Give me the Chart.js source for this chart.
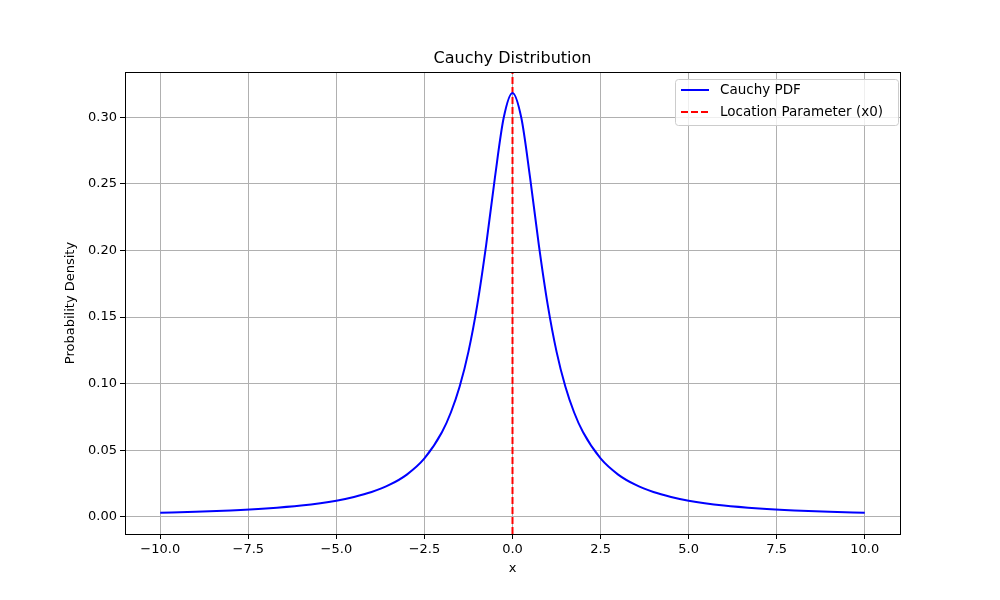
<!DOCTYPE html>
<html><head><script src="https://cdn.jsdelivr.net/npm/chart.js@4"></script>
<style>body{margin:0;background:#fff}</style></head>
<body><canvas id="c" width="1000" height="600"></canvas>
<script>
const xs = [-10,-9,-8,-7,-6,-5,-4.5,-4,-3.5,-3,-2.5,-2,-1.75,-1.5,-1.25,-1,-0.75,-0.5,-0.25,0,0.25,0.5,0.75,1,1.25,1.5,1.75,2,2.5,3,3.5,4,4.5,5,6,7,8,9,10];
const ys = [0.00315,0.0039,0.0049,0.0064,0.0086,0.0122,0.0150,0.0187,0.0240,0.0318,0.0439,0.0637,0.0784,0.0979,0.1241,0.1592,0.2037,0.2546,0.2996,0.3183,0.2996,0.2546,0.2037,0.1592,0.1241,0.0979,0.0784,0.0637,0.0439,0.0318,0.0240,0.0187,0.0150,0.0122,0.0086,0.0064,0.0049,0.0039,0.00315];
const xTicks = [-10,-7.5,-5,-2.5,0,2.5,5,7.5,10];
const yTicks = [0,0.05,0.10,0.15,0.20,0.25,0.30];
const loc = 0;
const F = "'DejaVu Sans'";
const fmt = (v,d)=> (v<0?'\u2212':'')+Math.abs(v).toFixed(d);
const deco = {
  id:'deco',
  afterDraw(ch){
    const c=ch.ctx, a=ch.chartArea;
    c.save();
    c.strokeStyle='#000'; c.lineWidth=1;
    c.strokeRect(a.left+0.5,a.top+0.5,a.right-a.left,a.bottom-a.top);
    c.fillStyle='#000'; c.font='16px '+F; c.textAlign='center'; c.textBaseline='bottom';
    c.fillText('Cauchy Distribution',(a.left+a.right)/2,a.top-5);
    c.font='13px '+F; c.textBaseline='middle';
    c.fillText('x',(a.left+a.right)/2,569);
    c.save(); c.translate(71,(a.top+a.bottom)/2); c.rotate(-Math.PI/2);
    c.fillText('Probability Density',0,0); c.restore();
    // legend
    const w=223,h=46,x=675,y=79;
    c.fillStyle='rgba(255,255,255,0.8)'; c.strokeStyle='#ccc';
    c.beginPath(); c.roundRect(x+0.5,y+0.5,w,h,3); c.fill(); c.stroke();
    c.font='13.5px '+F; c.textAlign='left'; c.lineWidth=2;
    ch.data.datasets.forEach((ds,i)=>{
      const ly=y+11+i*22;
      c.strokeStyle=ds.borderColor; c.setLineDash(ds.borderDash||[]);
      c.beginPath(); c.moveTo(x+6,ly); c.lineTo(x+34,ly); c.stroke();
      c.setLineDash([]); c.fillStyle='#000'; c.fillText(ds.label,x+45,ly);
    });
    c.restore();
  }
};
new Chart(document.getElementById('c'),{
  type:'line',
  data:{datasets:[
    {label:'Cauchy PDF',data:xs.map((x,i)=>({x,y:ys[i]})),borderColor:'#0000ff',borderWidth:2,pointRadius:0,cubicInterpolationMode:'monotone'},
    {label:'Location Parameter (x0)',data:[{x:loc,y:-0.0128},{x:loc,y:0.334}],borderColor:'#ff0000',borderWidth:2,borderDash:[7,3],pointRadius:0}
  ]},
  options:{
    responsive:false,animation:false,
    layout:{padding:{top:72,right:100,left:0,bottom:0}},
    plugins:{legend:{display:false},tooltip:{enabled:false}},
    scales:{
      x:{type:'linear',min:-11,max:11,
        afterBuildTicks:s=>{s.ticks=xTicks.map(v=>({value:v}));},
        afterFit:s=>{s.height=66;},
        ticks:{color:'#000',font:{family:F,size:13},maxRotation:0,callback:v=>fmt(v,1)},
        grid:{color:'#b0b0b0',tickColor:'#000',tickLength:5},border:{display:false}},
      y:{type:'linear',min:-0.0128,max:0.334,
        afterBuildTicks:s=>{s.ticks=yTicks.map(v=>({value:v}));},
        afterFit:s=>{s.width=125;},
        ticks:{color:'#000',font:{family:F,size:13},callback:v=>fmt(v,2)},
        grid:{color:'#b0b0b0',tickColor:'#000',tickLength:5},border:{display:false}}
    }
  },
  plugins:[deco]
});
</script></body></html>
